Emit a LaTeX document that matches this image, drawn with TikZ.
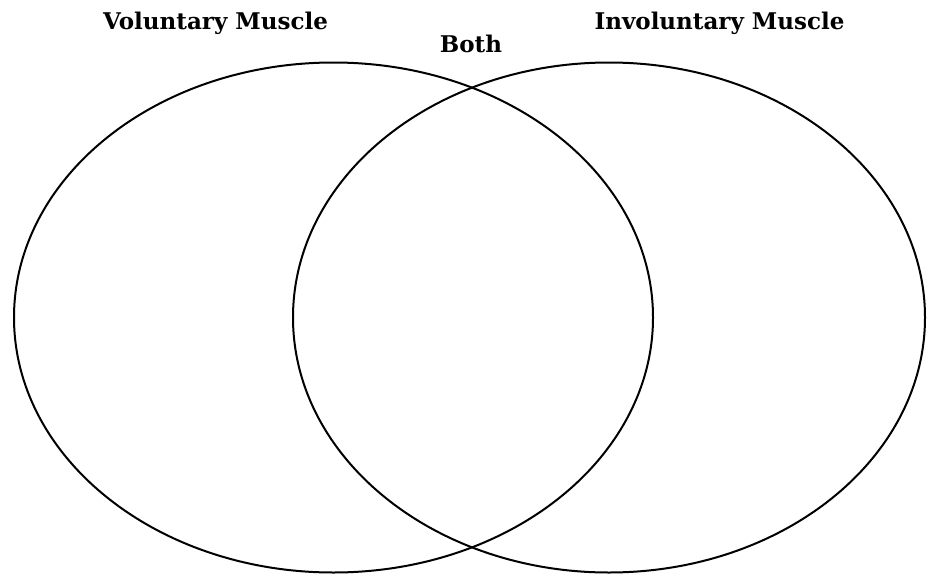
\documentclass[tikz,border=0pt]{standalone}
\usepackage{fontspec}
\setmainfont{DejaVu Serif}
\begin{document}
\begin{tikzpicture}[x=1pt,y=-1pt,
  setcircle/.style={draw=black,line width=2pt},
  setlabel/.style={font=\bfseries\fontsize{23}{27}\selectfont,anchor=base,inner sep=0pt}]
  \useasboundingbox (0,0) rectangle (927,576);
  % the two sets
  \draw[setcircle] (333.5,317.5) ellipse [x radius=319.5, y radius=255];
  \draw[setcircle] (609,317.5) ellipse [x radius=316, y radius=255];
  % labels
  \node[setlabel] (vol) at (215.5,29) {Voluntary Muscle};
  \node[setlabel] (both) at (471,52) {Both};
  \node[setlabel] (invol) at (719.5,29) {Involuntary Muscle};
\end{tikzpicture}
\end{document}
